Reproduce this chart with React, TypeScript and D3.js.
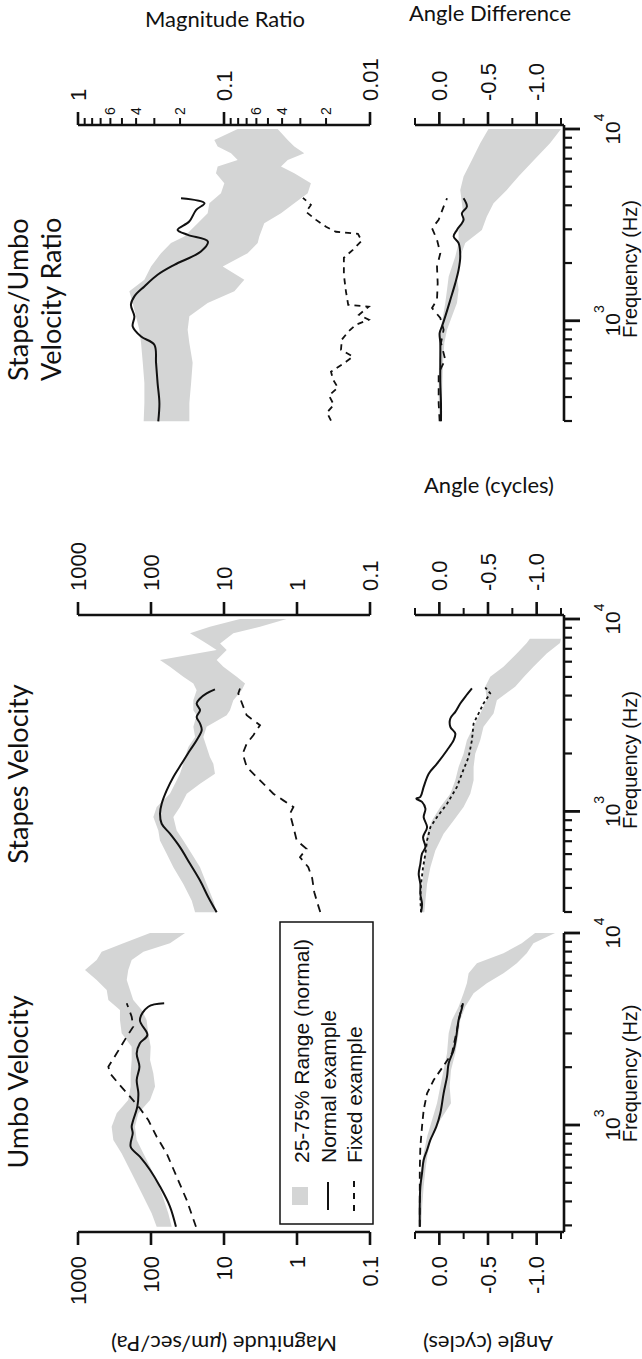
import * as d3 from 'd3';
import { useEffect, useRef } from 'react';

/**
 * Data. Frequencies in Hz.
 */

// Axis ticks
const freqTicks = [300, 400, 500, 600, 700, 800, 900, 1000, 2000, 3000, 4000, 5000, 6000, 7000, 8000, 9000, 10000];
const freqMajor = [1000, 10000];
const freqLabels = [
  [1000, '3'],
  [10000, '4'],
];
const magTicks = [1000, 100, 10, 1, 0.1];
const magLabels = ['1000', '100', '10', '1', '0.1'];
const ratioTicks = [1, 0.9, 0.8, 0.7, 0.6, 0.5, 0.4, 0.3, 0.2, 0.1, 0.09, 0.08, 0.07, 0.06, 0.05, 0.04, 0.03, 0.02, 0.01];
const ratioMajor = [
  [1, '1'],
  [0.1, '0.1'],
  [0.01, '0.01'],
];
const ratioMinor = [
  [0.6, '6'],
  [0.4, '4'],
  [0.2, '2'],
  [0.06, '6'],
  [0.04, '4'],
  [0.02, '2'],
];
const angleTicks = [0.25, 0, -0.25, -0.5, -0.75, -1, -1.25];
const angleLabels = [
  [0, '0.0'],
  [-0.5, '-0.5'],
  [-1, '-1.0'],
];

// Umbo velocity magnitude: [f, value] and band [f, p75, p25]
const umboMagNormal = [
  [295, 45.5], [376, 55], [477, 75], [583, 103], [684, 142], [771, 190], [905, 178], [980, 184], [1061, 175],
  [1245, 154], [1462, 149], [1716, 157], [2013, 144], [2362, 157], [2663, 142], [2943, 112], [3524, 142],
  [4131, 109], [4305, 66],
];
const umboMagFixed = [
  [295, 24.2], [406, 32.4], [538, 44.5], [711, 61], [869, 83.6], [1061, 109], [1222, 142], [1405, 194],
  [1648, 280], [1858, 364], [2013, 384], [2362, 295], [2884, 215], [3252, 175], [3667, 184], [4305, 215],
];
const umboMagBand = [
  [10000, 103, 34.2], [8836, 239, 55], [7998, 474, 127], [7234, 555, 184], [6412, 802, 205], [5687, 555, 215],
  [5043, 404, 194], [4474, 384, 175], [3968, 266, 134], [3524, 266, 115], [3001, 252, 109], [2558, 184, 101],
  [2181, 184, 103], [1860, 190, 93], [1585, 190, 88], [1350, 205, 103], [1151, 295, 149], [980, 346, 166],
  [836, 328, 157], [711, 252, 127], [560, 184, 93], [441, 134, 71.5], [347, 98, 58], [295, 83.6, 52],
];

// Umbo velocity angle (cycles)
const umboAngNormal = [
  [295, 0.201], [391, 0.201], [477, 0.195], [560, 0.178], [657, 0.161], [741, 0.126], [836, 0.092], [980, 0.031],
  [1151, -0.01], [1462, -0.044], [1786, -0.079], [2096, -0.096], [2461, -0.147], [2884, -0.174], [3524, -0.198],
  [4055, -0.232], [4305, -0.243],
];
const umboAngFixed = [
  [295, 0.201], [391, 0.201], [583, 0.201], [771, 0.195], [980, 0.178], [1197, 0.161], [1462, 0.126],
  [1716, 0.058], [2096, -0.061], [2362, -0.13], [3126, -0.181], [4217, -0.232],
];
const umboAngBand = [
  [10000, -0.984, -1.189], [8836, -0.847, -0.967], [7834, -0.659, -0.898], [6950, -0.386, -0.796],
  [6166, -0.301, -0.659], [5470, -0.283, -0.488], [4853, -0.249, -0.352], [4131, -0.198, -0.266],
  [3524, -0.13, -0.215], [3001, -0.096, -0.198], [2362, -0.079, -0.164], [1933, -0.044, -0.12],
  [1585, -0.01, -0.106], [1297, 0.024, -0.12], [1061, 0.075, -0.01], [869, 0.126, 0.075], [711, 0.161, 0.12],
  [583, 0.188, 0.143], [477, 0.201, 0.161], [391, 0.208, 0.174], [295, 0.208, 0.188],
];

// Stapes velocity magnitude
const stapesMagNormal = [
  [299, 12.6], [358, 16.4], [437, 21.3], [534, 29.2], [652, 40.1], [766, 55], [863, 71.4], [973, 75.3],
  [1096, 71.4], [1286, 61], [1510, 49.4], [1772, 38], [2080, 29.2], [2344, 23.7], [2643, 20.2], [2864, 21.3],
  [3099, 23.7], [3357, 21.3], [3637, 23.7], [3864, 21.3], [4104, 17.3], [4305, 13.3],
];
const stapesMagFixed = [
  [300, 0.48], [330, 0.52], [380, 0.58], [450, 0.62], [513, 0.7], [578, 0.91], [639, 0.74], [706, 1.01],
  [829, 1.12], [973, 1.25], [1054, 1.12], [1141, 1.54], [1236, 2.11], [1450, 3.21], [1703, 4.89], [1996, 5.54],
  [2251, 4.89], [2489, 3.96], [2805, 3.21], [3162, 4.89], [3493, 5.43], [4104, 6.37], [4355, 6.04],
];
const stapesMagBand = [
  [10000, 6.04, 1.39], [9120, 15.6, 3.21], [8420, 29.2, 7.45], [7468, 17.3, 11.3], [6897, 12.6, 9.19],
  [6115, 75.4, 12.6], [5645, 55, 10.2], [5008, 36.1, 6.7], [4625, 26.3, 5.15], [4268, 23.7, 5.72],
  [3786, 26.3, 7.45], [3358, 26.3, 8.28], [3162, 23.7, 9.19], [2750, 26.3, 17.3], [2438, 24.9, 19.2],
  [2162, 30.8, 17.3], [1918, 34.2, 15.6], [1771, 36.1, 14], [1571, 40.1, 13.3], [1393, 46.9, 21.3],
  [1236, 55, 32.4], [1054, 83.6, 40.1], [934, 92.9, 49.4], [796, 79.4, 44.5], [706, 75.4, 36.1],
  [603, 61, 27.7], [513, 49.4, 21.3], [420, 36.1, 17.3], [344, 27.7, 14], [299, 24.9, 12.6],
];

// Stapes velocity angle
const stapesAngNormal = [
  [299, 0.188], [330, 0.178], [372, 0.195], [420, 0.195], [473, 0.212], [534, 0.195], [603, 0.178],
  [652, 0.143], [735, 0.167], [828, 0.126], [934, 0.161], [1033, 0.143], [1120, 0.178], [1165, 0.236],
  [1189, 0.195], [1340, 0.161], [1571, 0.109], [1771, 0.024], [2080, -0.079], [2344, -0.147], [2541, -0.164],
  [2750, -0.113], [3041, -0.113], [3291, -0.164], [3637, -0.215], [3939, -0.266], [4355, -0.335],
];
const stapesAngFixed = [
  [299, 0.188], [344, 0.195], [420, 0.188], [513, 0.167], [603, 0.143], [706, 0.126], [828, 0.092],
  [934, 0.024], [1096, -0.079], [1340, -0.181], [1571, -0.232], [1918, -0.301], [2344, -0.335],
  [2864, -0.352], [3637, -0.454], [4104, -0.523], [4406, -0.471],
];
const stapesAngBand = [
  [7900, -0.93, -1.25], [7500, -0.898, -1.24], [6622, -0.796, -1.103], [5645, -0.659, -0.967],
  [5008, -0.523, -0.87], [4446, -0.471, -0.779], [3786, -0.488, -0.591], [3228, -0.42, -0.557],
  [2750, -0.352, -0.454], [2344, -0.283, -0.42], [1996, -0.249, -0.369], [1703, -0.198, -0.352],
  [1450, -0.164, -0.352], [1236, -0.113, -0.318], [1054, -0.01, -0.249], [898, 0.075, -0.147],
  [766, 0.126, -0.044], [627, 0.143, 0.041], [513, 0.161, 0.092], [420, 0.174, 0.126], [344, 0.188, 0.143],
  [299, 0.195, 0.154],
];

// Stapes/Umbo velocity ratio magnitude
const ratioMagNormal = [
  [299, 0.282], [372, 0.277], [473, 0.285], [603, 0.292], [750, 0.3], [828, 0.37], [934, 0.422], [1054, 0.411],
  [1211, 0.434], [1340, 0.411], [1510, 0.351], [1738, 0.285], [1958, 0.219], [2296, 0.144], [2589, 0.129],
  [2805, 0.177], [2977, 0.208], [3291, 0.173], [3786, 0.155], [4104, 0.136], [4355, 0.197],
];
const ratioMagFixed = [
  [301, 0.0185], [332, 0.0197], [365, 0.0177], [407, 0.0191], [448, 0.0166], [493, 0.0179], [542, 0.0185],
  [611, 0.0146], [650, 0.0131], [706, 0.0158], [797, 0.0156], [876, 0.0141], [953, 0.0125], [1012, 0.0102],
  [1075, 0.0119], [1183, 0.0102], [1211, 0.0141], [1416, 0.0146], [1738, 0.0151], [2130, 0.0151],
  [2344, 0.0131], [2612, 0.0114], [2839, 0.0121], [2911, 0.0171], [3090, 0.02], [3358, 0.0234],
  [3698, 0.0274], [4018, 0.0254], [4375, 0.0288],
];
const ratioMagBand = [
  [10000, 0.0806, 0.0429], [8765, 0.1165, 0.0366], [8097, 0.1105, 0.033], [7468, 0.0895, 0.0282],
  [6897, 0.0806, 0.0366], [6370, 0.1105, 0.0407], [5883, 0.1135, 0.033], [5212, 0.0995, 0.0254],
  [4625, 0.1049, 0.0267], [4104, 0.126, 0.033], [3637, 0.1294, 0.0407], [3228, 0.1514, 0.053],
  [2750, 0.187, 0.0573], [2541, 0.2307, 0.0588], [2251, 0.27, 0.0689], [1918, 0.316, 0.102],
  [1636, 0.351, 0.0726], [1423, 0.445, 0.0849], [1236, 0.422, 0.1294], [1054, 0.401, 0.1727],
  [898, 0.38, 0.1774], [766, 0.37, 0.1727], [603, 0.36, 0.164], [473, 0.351, 0.168], [372, 0.351, 0.1727],
  [299, 0.355, 0.1727],
];

// Stapes/Umbo angle difference
const ratioAngNormal = [
  [299, -0.017], [372, -0.017], [473, -0.01], [603, -0.01], [766, -0.01], [863, -0.003], [934, -0.027],
  [1054, -0.061], [1286, -0.113], [1571, -0.164], [1844, -0.198], [2162, -0.215], [2541, -0.198],
  [2750, -0.147], [2977, -0.181], [3358, -0.249], [3637, -0.232], [3939, -0.283], [4355, -0.249],
];
const ratioAngFixed = [
  [299, -0.003], [372, 0.007], [437, 0.007], [534, 0.007], [627, -0.061], [766, -0.017], [898, -0.044],
  [1033, -0.01], [1165, 0.075], [1286, 0.024], [1571, 0.017], [1918, 0.024], [2251, -0.01], [2643, 0.024],
  [3041, 0.075], [3358, 0.007], [3939, -0.044], [4355, -0.079],
];
const ratioAngBand = [
  [10000, -0.505, -1.25], [8420, -0.42, -1.137], [6897, -0.335, -0.973], [5645, -0.249, -0.813],
  [4809, -0.215, -0.693], [4104, -0.232, -0.557], [3493, -0.249, -0.488], [2977, -0.198, -0.437],
  [2541, -0.198, -0.266], [2162, -0.164, -0.215], [1918, -0.13, -0.198], [1703, -0.096, -0.181],
  [1450, -0.079, -0.198], [1236, -0.061, -0.181], [1054, -0.038, -0.13], [898, -0.01, -0.079],
  [766, -0.003, -0.051], [603, 0.003, -0.038], [473, 0.007, -0.031], [372, 0.007, -0.027], [299, 0.003, -0.024],
];

const legendItems = ['25-75% Range (normal)', 'Normal example', 'Fixed example'];

/**
 * Layout. The figure is laid out landscape (1359 x 642) and turned a
 * quarter turn counter-clockwise onto the 642 x 1359 page.
 */
const PAGE_W = 642;
const PAGE_H = 1359;
const MAG_Y = [78, 370];
const ANG_Y = [415, 561];
const FREQ_Y = 564;
const GRAY = '#d4d5d5';
const SANS = '"Liberation Sans", Arial, Helvetica, sans-serif';
const HUMANIST = 'Lato, "Open Sans", sans-serif';

const columns = [
  {
    f300: 133.6, f10k: 426, axisX: 127, side: -1, magDomain: [1000, 0.1], ratio: false,
    magBand: umboMagBand, magNormal: umboMagNormal, magFixed: umboMagFixed,
    angBand: umboAngBand, angNormal: umboAngNormal, angFixed: umboAngFixed,
    magDash: '8,6', angDash: '7,5',
  },
  {
    f300: 447, f10k: 740, axisX: 744, side: 1, magDomain: [1000, 0.1], ratio: false,
    magBand: stapesMagBand, magNormal: stapesMagNormal, magFixed: stapesMagFixed,
    angBand: stapesAngBand, angNormal: stapesAngNormal, angFixed: stapesAngFixed,
    magDash: '8,6', angDash: '3,3',
  },
  {
    f300: 938, f10k: 1230, axisX: 1234, side: 1, magDomain: [1, 0.01], ratio: true,
    magBand: ratioMagBand, magNormal: ratioMagNormal, magFixed: ratioMagFixed,
    angBand: ratioAngBand, angNormal: ratioAngNormal, angFixed: ratioAngFixed,
    magDash: '6,5', angDash: '7,6',
  },
];

export default function App() {
  const ref = useRef<SVGSVGElement>(null);

  useEffect(() => {
    const svg = d3.select(ref.current);
    svg.selectAll('*').remove();
    svg.append('rect').attr('width', PAGE_W).attr('height', PAGE_H).attr('fill', '#fff');

    const fig = svg.append('g').attr('transform', `translate(0,${PAGE_H}) rotate(-90)`);

    columns.forEach((c: any) => {
      const g = fig.append('g');
      const fx = d3.scaleLog().domain([300, 10000]).range([c.f300, c.f10k]);
      const my = d3.scaleLog().domain(c.magDomain).range(MAG_Y);
      const ay = d3.scaleLinear().domain([0.25, -1.25]).range(ANG_Y);

      const band = (y: any) =>
        d3.area<any>().x((d) => fx(d[0])).y0((d) => y(d[1])).y1((d) => y(d[2]));
      const smooth = (y: any) =>
        d3.line<any>().x((d) => fx(d[0])).y((d) => y(d[1])).curve(d3.curveCatmullRom.alpha(0.5));
      const jagged = (y: any) => d3.line<any>().x((d) => fx(d[0])).y((d) => y(d[1]));

      // 25-75% bands
      g.append('path').attr('d', band(my)(c.magBand)).attr('fill', GRAY);
      g.append('path').attr('d', band(ay)(c.angBand)).attr('fill', GRAY);

      // Fixed example (dashed)
      g.append('path').attr('d', jagged(my)(c.magFixed)).attr('fill', 'none').attr('stroke', '#111')
        .attr('stroke-width', 1.8).attr('stroke-dasharray', c.magDash);
      g.append('path').attr('d', jagged(ay)(c.angFixed)).attr('fill', 'none').attr('stroke', '#111')
        .attr('stroke-width', 1.8).attr('stroke-dasharray', c.angDash);

      // Normal example (solid)
      g.append('path').attr('d', smooth(my)(c.magNormal)).attr('fill', 'none').attr('stroke', '#111')
        .attr('stroke-width', 2);
      g.append('path').attr('d', smooth(ay)(c.angNormal)).attr('fill', 'none').attr('stroke', '#111')
        .attr('stroke-width', 2);

      // Axes
      const ax = g.append('g').attr('stroke', '#111').attr('stroke-width', 2.6).attr('fill', 'none');
      const tick = (x1: number, y1: number, x2: number, y2: number, w = 2.6) =>
        ax.append('line').attr('x1', x1).attr('y1', y1).attr('x2', x2).attr('y2', y2).attr('stroke-width', w);

      // magnitude axis
      tick(c.axisX, MAG_Y[0], c.axisX, MAG_Y[1]);
      if (c.ratio) {
        ratioTicks.forEach((v) => {
          const major = v === 1 || v === 0.1 || v === 0.01;
          tick(c.axisX, my(v), c.axisX + c.side * (major ? 13 : 7), my(v), major ? 2.6 : 2);
        });
      } else {
        magTicks.forEach((v) => tick(c.axisX, my(v), c.axisX + c.side * 13, my(v)));
      }

      // angle axis
      tick(c.axisX, ANG_Y[0], c.axisX, FREQ_Y);
      angleTicks.forEach((v) => {
        const major = v === 0 || v === -0.5 || v === -1;
        tick(c.axisX, ay(v), c.axisX + c.side * (major ? 13 : 7), ay(v), major ? 2.6 : 2);
      });

      // frequency axis
      const fEnd = c.side < 0 ? c.f10k : c.f300;
      tick(c.axisX, FREQ_Y, fEnd, FREQ_Y);
      freqTicks.forEach((f) => {
        const major = freqMajor.includes(f);
        tick(fx(f), FREQ_Y, fx(f), FREQ_Y + (major ? 16 : 8), major ? 2.8 : 2.2);
      });

      // tick labels
      const lab = g.append('g').attr('font-family', SANS).attr('fill', '#111');
      const anchor = c.side < 0 ? 'end' : 'start';
      if (c.ratio) {
        ratioMajor.forEach(([v, t]: any) =>
          lab.append('text').attr('x', c.axisX + 24).attr('y', my(v)).attr('dy', '0.35em')
            .attr('font-size', 22).attr('text-anchor', anchor).text(t));
        ratioMinor.forEach(([v, t]: any) =>
          lab.append('text').attr('x', c.axisX + 10).attr('y', my(v)).attr('dy', '0.35em')
            .attr('font-size', 14).attr('text-anchor', anchor).text(t));
      } else {
        magTicks.forEach((v, i) =>
          lab.append('text').attr('x', c.axisX + c.side * 24).attr('y', my(v)).attr('dy', '0.35em')
            .attr('font-size', 22).attr('text-anchor', anchor).text(magLabels[i]));
      }
      angleLabels.forEach(([v, t]: any) =>
        lab.append('text').attr('x', c.axisX + c.side * 24).attr('y', ay(v)).attr('dy', '0.35em')
          .attr('font-size', 22).attr('text-anchor', anchor).text(t));

      freqLabels.forEach(([f, e]: any) => {
        const t = lab.append('text').attr('x', fx(f)).attr('y', 620).attr('font-size', 21)
          .attr('text-anchor', 'middle').text('10');
        t.append('tspan').attr('dy', -16).attr('font-size', 14).text(e);
      });
      lab.append('text').attr('x', c.f300 + 152).attr('y', 637).attr('font-size', 20)
        .attr('text-anchor', 'middle').text('Frequency (Hz)');
    });

    // Titles
    const titles = fig.append('g').attr('font-family', HUMANIST).attr('font-size', 27).attr('fill', '#111');
    titles.append('text').attr('x', 277).attr('y', 28).attr('text-anchor', 'middle').text('Umbo Velocity');
    titles.append('text').attr('x', 585).attr('y', 28).attr('text-anchor', 'middle').text('Stapes Velocity');
    titles.append('text').attr('x', 978).attr('y', 27.5).text('Stapes/Umbo');
    titles.append('text').attr('x', 978).attr('y', 60.5).text('Velocity Ratio');

    // Axis titles
    const at = fig.append('g').attr('font-family', HUMANIST).attr('font-size', 22).attr('fill', '#111')
      .attr('text-anchor', 'middle');
    const mt = at.append('text').attr('transform', 'translate(23,224) rotate(-90)');
    mt.append('tspan').text('Magnitude (');
    mt.append('tspan').attr('font-style', 'italic').text('μ');
    mt.append('tspan').text('m/sec/Pa)');
    at.append('text').attr('transform', 'translate(23,488) rotate(-90)').text('Angle (cycles)');
    at.append('text').attr('transform', 'translate(866,489) rotate(90)').text('Angle (cycles)');
    at.append('text').attr('transform', 'translate(1332,225) rotate(90)').text('Magnitude Ratio');
    at.append('text').attr('transform', 'translate(1338,490) rotate(90)').text('Angle Difference');

    // Legend
    const lg = fig.append('g').attr('font-family', SANS).attr('font-size', 21).attr('fill', '#111');
    lg.append('rect').attr('x', 135).attr('y', 280).attr('width', 302).attr('height', 93)
      .attr('fill', '#fff').attr('stroke', '#111').attr('stroke-width', 1.5);
    lg.append('rect').attr('x', 154).attr('y', 292).attr('width', 18).attr('height', 16).attr('fill', GRAY);
    lg.append('line').attr('x1', 149).attr('x2', 177).attr('y1', 328).attr('y2', 328)
      .attr('stroke', '#111').attr('stroke-width', 2);
    lg.append('line').attr('x1', 148).attr('x2', 178).attr('y1', 354).attr('y2', 354)
      .attr('stroke', '#111').attr('stroke-width', 2).attr('stroke-dasharray', '6,6');
    legendItems.forEach((t, i) => {
      lg.append('text').attr('x', 196).attr('y', 309 + i * 26.5).text(t);
    });
  }, []);

  return (
    <svg
      ref={ref}
      width={PAGE_W}
      height={PAGE_H}
      style={{ position: 'absolute', left: 0, top: 0, display: 'block' }}
    />
  );
}
